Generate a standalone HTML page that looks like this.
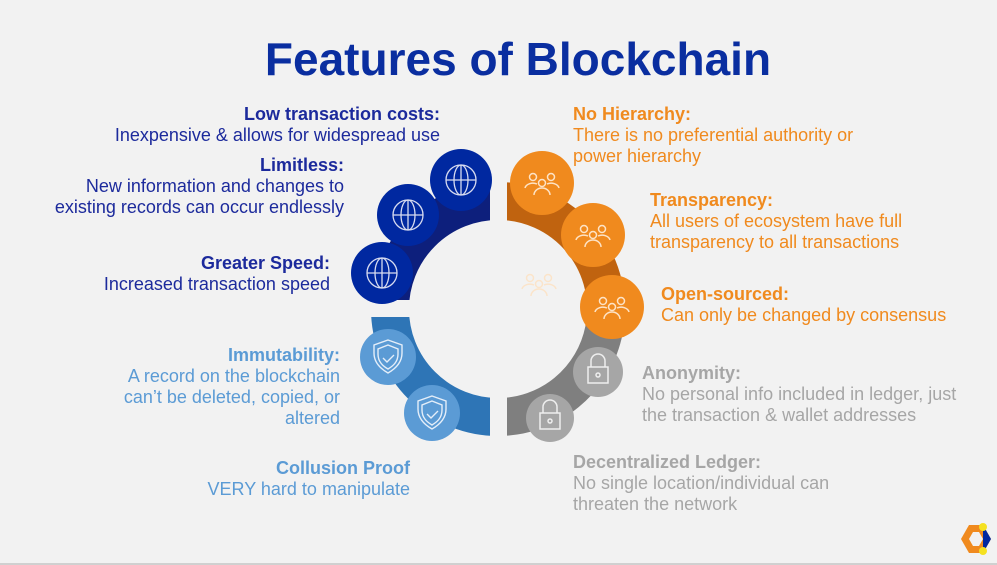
<!DOCTYPE html>
<html><head><meta charset="utf-8"><style>
body{margin:0;width:997px;height:565px;background:#f2f2f2;font-family:"Liberation Sans",Arial,sans-serif;position:relative;overflow:hidden}
.t{position:absolute;font-size:18px;line-height:21px;white-space:nowrap}
.r{text-align:right}
b{font-weight:bold}
h1{position:absolute;left:0;width:1036px;text-align:center;top:32px;margin:0;font-size:46px;color:#0a2ea0;font-weight:bold}
</style></head><body>
<h1>Features of Blockchain</h1>
<div class="t r" style="right:557px;top:104px;color:#1c2a9c"><b>Low transaction costs:</b><br>Inexpensive &amp; allows for widespread use</div>
<div class="t r" style="right:653px;top:155px;color:#1c2a9c"><b>Limitless:</b><br>New information and changes to<br>existing records can occur endlessly</div>
<div class="t r" style="right:667px;top:253px;color:#1c2a9c"><b>Greater Speed:</b><br>Increased transaction speed</div>
<div class="t r" style="right:657px;top:345px;color:#5b9bd5"><b>Immutability:</b><br>A record on the blockchain<br>can’t be deleted, copied, or<br>altered</div>
<div class="t r" style="right:587px;top:458px;color:#5b9bd5"><b>Collusion Proof</b><br>VERY hard to manipulate</div>
<div class="t" style="left:573px;top:104px;color:#f08a1e"><b>No Hierarchy:</b><br>There is no preferential authority or<br>power hierarchy</div>
<div class="t" style="left:650px;top:190px;color:#f08a1e"><b>Transparency:</b><br>All users of ecosystem have full<br>transparency to all transactions</div>
<div class="t" style="left:661px;top:284px;color:#f08a1e"><b>Open-sourced:</b><br>Can only be changed by consensus</div>
<div class="t" style="left:642px;top:363px;color:#a6a6a6"><b>Anonymity:</b><br>No personal info included in ledger, just<br>the transaction &amp; wallet addresses</div>
<div class="t" style="left:573px;top:452px;color:#a6a6a6"><b>Decentralized Ledger:</b><br>No single location/individual can<br>threaten the network</div>
<svg width="997" height="565" style="position:absolute;left:0;top:0">
<defs>
<g id="globe" fill="none" stroke="#d8dcf0" stroke-width="1.3"><circle r="15"/><ellipse rx="7" ry="15"/><line x1="-15" x2="15"/><line y1="-15" y2="15"/></g>
<g id="ppl" fill="none" stroke="#fde3c6" stroke-width="1.5"><circle cx="-9" cy="-6" r="3.5"/><circle cx="9" cy="-6" r="3.5"/><circle cx="0" cy="0" r="3.5"/><path d="M-17 5a8 6 0 0 1 12-4M17 5a8 6 0 0 0-12-4M-8 12a8 7 0 0 1 16 0"/></g>
<g id="lock" fill="none" stroke="#eee" stroke-width="1.5"><rect x="-10" y="-3" width="20" height="16"/><path d="M-7 -3v-6a7 7 0 0 1 14 0v6"/><circle cx="0" cy="5" r="2"/></g>
<g id="shield" fill="none" stroke="#e4eef9" stroke-width="1.4"><path d="M0 -17l14 5v8c0 10-7 16-14 20c-7-4-14-10-14-20v-8z"/><path d="M0 -12l10 4v5c0 8-5 12-10 15c-5-3-10-7-10-15v-5z"/><path d="M-5 1l4 4l7-7"/></g>
</defs>
<g fill="none" stroke-width="38">
<path d="M390 309A108 108 0 0 1 498 201" stroke="#0d1f7c"/>
<path d="M498 201A108 108 0 0 1 604 330" stroke="#c0630f"/>
<path d="M604 330A108 108 0 0 1 498 417" stroke="#7f7f7f"/>
<path d="M498 417A108 108 0 0 1 390 309" stroke="#2e75b6"/>
</g>
<rect x="490" y="160" width="17" height="66" fill="#f2f2f2"/>
<rect x="490" y="392" width="17" height="65" fill="#f2f2f2"/>
<rect x="355" y="300" width="68" height="17" fill="#f2f2f2"/>
<use href="#ppl" x="539" y="284" opacity="0.9"/>
<g fill="#0028a0">
<circle cx="461" cy="180" r="31"/><circle cx="408" cy="215" r="31"/><circle cx="382" cy="273" r="31"/></g>
<use href="#globe" x="461" y="180"/><use href="#globe" x="408" y="215"/><use href="#globe" x="382" y="273"/>
<g fill="#f08a1e"><circle cx="542" cy="183" r="32"/><circle cx="593" cy="235" r="32"/><circle cx="612" cy="307" r="32"/></g>
<use href="#ppl" x="542" y="183"/><use href="#ppl" x="593" y="235"/><use href="#ppl" x="612" y="307"/>
<g fill="#a6a6a6"><circle cx="598" cy="372" r="25"/><circle cx="550" cy="418" r="24"/></g>
<use href="#lock" x="598" y="370"/><use href="#lock" x="550" y="416"/>
<g fill="#5b9bd5"><circle cx="388" cy="357" r="28"/><circle cx="432" cy="413" r="28"/></g>
<use href="#shield" x="388" y="357"/><use href="#shield" x="432" y="413"/>
<path d="M969 525h14l8 14l-8 14h-14l-8-14z" fill="#f08a1e"/>
<path d="M973 532h6l4 7l-4 7h-6l-4-7z" fill="#f2f2f2"/>
<path d="M983 525l8 14l-8 14z" fill="#0028a0"/>
<circle cx="983" cy="527" r="4" fill="#f5e120"/><circle cx="983" cy="551" r="4" fill="#f5e120"/>
<rect x="0" y="563" width="997" height="2" fill="#d0d0d0"/>
</svg>
</body></html>
